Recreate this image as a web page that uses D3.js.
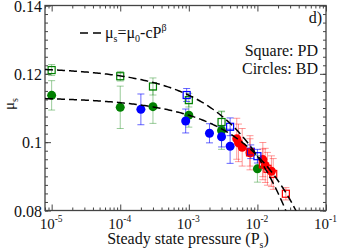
<!DOCTYPE html>
<html>
<head>
<meta charset="utf-8">
<script src="https://cdn.jsdelivr.net/npm/d3@7"></script>
<style>
  body { margin: 0; background: #fff; }
</style>
</head>
<body>
<div id="chart"></div>
<script>
// PD squares (open markers)
var pdGreenP = [1e-5, 1e-4, 3e-4, 1e-3, 3e-3];
var pdGreenMu = [0.1211, 0.1193, 0.1163, 0.1123, 0.1059];
var pdGreenErr = [0.0016, 0.0014, 0.0025, 0.0020, 0.0032];
var pdBlueP = [9.3e-4, 4e-3, 8e-3, 1e-2];
var pdBlueMu = [0.1138, 0.1045, 0.0972, 0.0959];
var pdBlueErr = [0.0019, 0.0026, 0.0020, 0.0020];
var pdRedP = [7.8e-3, 1.2e-2, 1.4e-2, 1.7e-2, 2.6e-2];
var pdRedMu = [0.0970, 0.0935, 0.0922, 0.0907, 0.0849];
var pdRedErr = [0.0040, 0.0045, 0.0048, 0.0045, 0.0018];

// BD circles (filled markers)
var bdGreenP = [1e-5, 1e-4, 3e-4, 1e-3, 3e-3, 1e-2];
var bdGreenMu = [0.1137, 0.1102, 0.1104, 0.1079, 0.1034, 0.0922];
var bdGreenErr = [0.0043, 0.0062, 0.0049, 0.0035, 0.0055, 0.0039];
var bdBlueP = [2e-4, 9e-4, 2e-3, 3e-3, 4e-3];
var bdBlueMu = [0.1096, 0.1062, 0.1026, 0.1016, 0.0988];
var bdBlueErr = [0.0045, 0.0035, 0.0028, 0.0030, 0.0050];
var bdRedP = [5e-3, 5.3e-3, 6e-3, 7.8e-3, 1.2e-2, 1.3e-2, 1.6e-2];
var bdRedMu = [0.1010, 0.0998, 0.0985, 0.0969, 0.0949, 0.0932, 0.0915];
var bdRedErr = [0.0060, 0.0055, 0.0055, 0.0050, 0.0050, 0.0050, 0.0045];

// fit mu_s = mu0 - c P^beta
var fitPD = {mu0: 0.1220, c: 0.261, beta: 0.50};
var fitBD = {mu0: 0.1132, c: 0.180, beta: 0.51};

var xDecades = [1e-5, 1e-4, 1e-3, 1e-2, 1e-1];
var xExp = ["-5", "-4", "-3", "-2", "-1"];
var yMajor = [0.08, 0.10, 0.12, 0.14];
var yLabels = ["0.08", "0.1", "0.12", "0.14"];

var W = 340, H = 251;
var L = 45, R = 326, T = 5.5, B = 210.5;

var svg = d3.select("#chart").append("svg").attr("width", W).attr("height", H);

var x = d3.scaleLog().domain([8e-6, 0.1]).range([L, R]);
var y = d3.scaleLinear().domain([0.08, 0.14]).range([B, T]);

var axisCol = "#444";

// ticks (inward on all four sides)
var xMinor = x.ticks().filter(function(d) { return xDecades.indexOf(d) < 0; });
var yMinor = d3.range(0, 25).map(function(i) { return +(0.08 + i * 0.0025).toFixed(4); });

function styleAxis(g) {
  g.select(".domain").remove();
  g.selectAll("line").attr("stroke", axisCol).attr("stroke-width", 1);
}
svg.append("g").attr("transform", "translate(0," + B + ")")
  .call(d3.axisBottom(x).tickValues(xMinor).tickSize(-3).tickFormat("")).call(styleAxis);
svg.append("g").attr("transform", "translate(0," + B + ")")
  .call(d3.axisBottom(x).tickValues(xDecades).tickSize(-6).tickFormat("")).call(styleAxis);
svg.append("g").attr("transform", "translate(0," + T + ")")
  .call(d3.axisTop(x).tickValues(xMinor).tickSize(-3).tickFormat("")).call(styleAxis);
svg.append("g").attr("transform", "translate(0," + T + ")")
  .call(d3.axisTop(x).tickValues(xDecades).tickSize(-6).tickFormat("")).call(styleAxis);
svg.append("g").attr("transform", "translate(" + L + ",0)")
  .call(d3.axisLeft(y).tickValues(yMinor).tickSize(-3).tickFormat("")).call(styleAxis);
svg.append("g").attr("transform", "translate(" + L + ",0)")
  .call(d3.axisLeft(y).tickValues(yMajor).tickSize(-6).tickFormat("")).call(styleAxis);
svg.append("g").attr("transform", "translate(" + R + ",0)")
  .call(d3.axisRight(y).tickValues(yMinor).tickSize(-3).tickFormat("")).call(styleAxis);
svg.append("g").attr("transform", "translate(" + R + ",0)")
  .call(d3.axisRight(y).tickValues(yMajor).tickSize(-6).tickFormat("")).call(styleAxis);

svg.append("rect").attr("x", L).attr("y", T).attr("width", R - L).attr("height", B - T)
  .attr("fill", "none").attr("stroke", axisCol).attr("stroke-width", 1.3);

// tick labels
var xl = svg.append("g").selectAll("text").data(xDecades).join("text")
  .attr("x", function(d) { return x(d) - 0.5; }).attr("y", 228.5)
  .attr("text-anchor", "middle").attr("font-size", 15);
xl.append("tspan").text("10");
xl.append("tspan").attr("dy", -7).attr("font-size", 9.5)
  .text(function(d, i) { return xExp[i]; });

svg.append("g").selectAll("text").data(yMajor).join("text")
  .attr("x", 42).attr("y", function(d) { return y(d) + 6; })
  .attr("text-anchor", "end").attr("font-size", 16)
  .text(function(d, i) { return yLabels[i]; });

// axis titles
var xt = svg.append("text").attr("x", 188).attr("y", 244).attr("text-anchor", "middle")
  .attr("font-size", 16);
xt.append("tspan").text("Steady state pressure (P");
xt.append("tspan").attr("dy", 4).attr("font-size", 10).text("s");
xt.append("tspan").attr("dy", -4).text(")");

var yt = svg.append("text").attr("transform", "translate(14,104) rotate(-90)")
  .attr("text-anchor", "middle").attr("font-size", 15);
yt.append("tspan").text("μ");
yt.append("tspan").attr("dy", 4).attr("font-size", 10).text("s");

// data marks
var green = "#008000", blue = "#0000ff", red = "#ff0000";
var series = [
  {p: bdGreenP, mu: bdGreenMu, err: bdGreenErr, col: green, filled: true},
  {p: bdBlueP, mu: bdBlueMu, err: bdBlueErr, col: blue, filled: true},
  {p: bdRedP, mu: bdRedMu, err: bdRedErr, col: red, filled: true},
  {p: pdGreenP, mu: pdGreenMu, err: pdGreenErr, col: green, filled: false},
  {p: pdBlueP, mu: pdBlueMu, err: pdBlueErr, col: blue, filled: false},
  {p: pdRedP, mu: pdRedMu, err: pdRedErr, col: red, filled: false}
];

var plot = svg.append("g");
series.forEach(function(s) {
  var pts = s.p.map(function(p, i) { return {p: p, mu: s.mu[i], e: s.err[i]}; });
  var eb = plot.append("g").attr("stroke", s.col).attr("stroke-width", 1)
    .attr("stroke-opacity", s.col === blue ? 0.6 : 0.4);
  eb.selectAll(".v").data(pts).join("line")
    .attr("x1", function(d) { return x(d.p); }).attr("x2", function(d) { return x(d.p); })
    .attr("y1", function(d) { return y(d.mu - d.e); }).attr("y2", function(d) { return y(d.mu + d.e); });
  [-1, 1].forEach(function(sg) {
    eb.selectAll(".c" + sg).data(pts).join("line")
      .attr("x1", function(d) { return x(d.p) - 3.5; }).attr("x2", function(d) { return x(d.p) + 3.5; })
      .attr("y1", function(d) { return y(d.mu + sg * d.e); }).attr("y2", function(d) { return y(d.mu + sg * d.e); });
  });
});
series.forEach(function(s) {
  var pts = s.p.map(function(p, i) { return {p: p, mu: s.mu[i]}; });
  if (s.filled) {
    plot.append("g").selectAll("circle").data(pts).join("circle")
      .attr("cx", function(d) { return x(d.p); }).attr("cy", function(d) { return y(d.mu); })
      .attr("r", 4.5).attr("fill", s.col);
  } else {
    plot.append("g").selectAll("rect").data(pts).join("rect")
      .attr("x", function(d) { return x(d.p) - 3.5; }).attr("y", function(d) { return y(d.mu) - 3.5; })
      .attr("width", 7).attr("height", 7)
      .attr("fill", "none").attr("stroke", s.col).attr("stroke-width", 1.2);
  }
});

// fit curves
svg.append("clipPath").attr("id", "clip").append("rect")
  .attr("x", L).attr("y", T).attr("width", R - L).attr("height", B - T);
var pGrid = d3.range(0, 201).map(function(i) { return 8e-6 * Math.pow(0.1 / 8e-6, i / 200); });
var line = d3.line().x(function(d) { return x(d[0]); }).y(function(d) { return y(d[1]); });
[fitPD, fitBD].forEach(function(f) {
  var pts = pGrid.map(function(p) { return [p, f.mu0 - f.c * Math.pow(p, f.beta)]; })
    .filter(function(d) { return d[1] > 0.075; });
  svg.append("path").datum(pts).attr("d", line).attr("clip-path", "url(#clip)")
    .attr("fill", "none").attr("stroke", "#000").attr("stroke-width", 1.5)
    .attr("stroke-dasharray", "8,4");
});

// legend and annotations
svg.append("line").attr("x1", 80).attr("x2", 102).attr("y1", 33).attr("y2", 33)
  .attr("stroke", "#000").attr("stroke-width", 1.5).attr("stroke-dasharray", "8,5");
var lg = svg.append("text").attr("x", 105).attr("y", 38).attr("font-size", 16);
lg.append("tspan").text("μ");
lg.append("tspan").attr("dy", 4).attr("font-size", 10).text("s");
lg.append("tspan").attr("dy", -4).text("=μ");
lg.append("tspan").attr("dy", 4).attr("font-size", 10).text("0");
lg.append("tspan").attr("dy", -4).text("-cP");
lg.append("tspan").attr("dy", -7).attr("font-size", 10).text("β");

svg.append("text").attr("x", 322).attr("y", 23).attr("text-anchor", "end")
  .attr("font-size", 16).text("d)");
svg.append("text").attr("x", 318).attr("y", 56).attr("text-anchor", "end")
  .attr("font-size", 16).text("Square: PD");
svg.append("text").attr("x", 318).attr("y", 74).attr("text-anchor", "end")
  .attr("font-size", 16).text("Circles: BD");

// serif text everywhere
svg.selectAll("text").attr("font-family", "Liberation Serif").attr("fill", "#111");
</script>
</body>
</html>
